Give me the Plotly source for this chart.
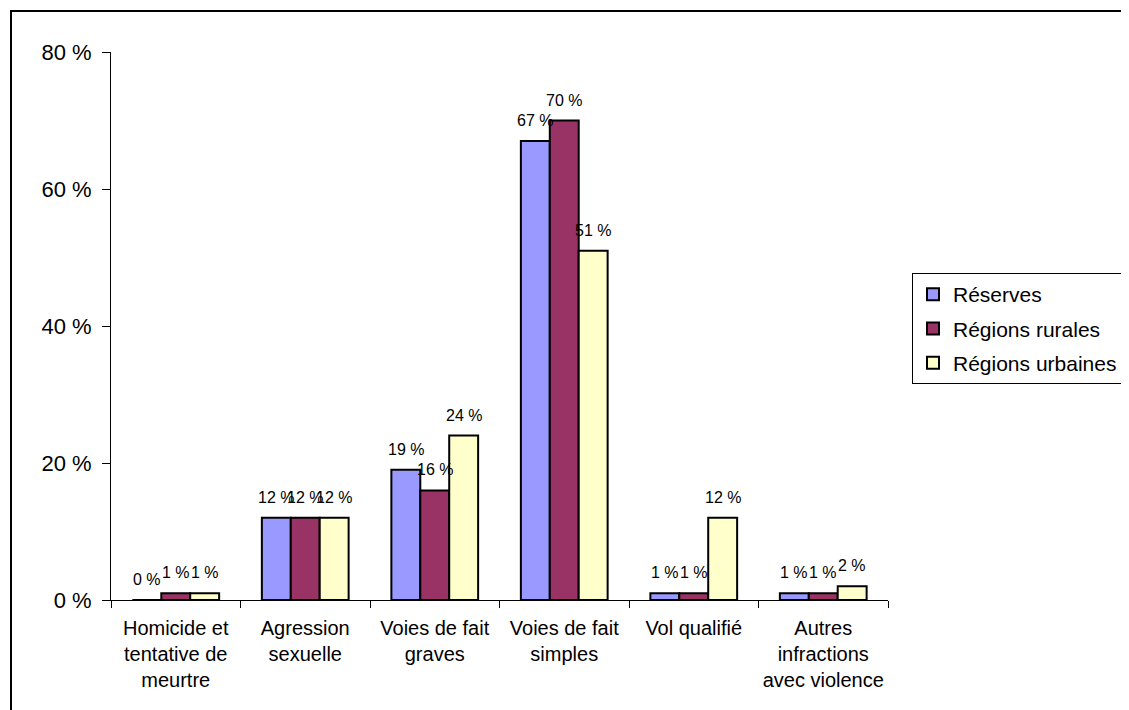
import plotly.graph_objects as go

categories = [
    "Homicide et<br>tentative de<br>meurtre",
    "Agression<br>sexuelle",
    "Voies de fait<br>graves",
    "Voies de fait<br>simples",
    "Vol qualifié",
    "Autres<br>infractions<br>avec violence",
]
reserves = [0, 12, 19, 67, 1, 1]
rurales = [1, 12, 16, 70, 1, 1]
urbaines = [1, 12, 24, 51, 12, 2]
y_ticks = [0, 20, 40, 60, 80]

series = [
    ("Réserves", reserves, "#9999FF"),
    ("Régions rurales", rurales, "#993366"),
    ("Régions urbaines", urbaines, "#FFFFCC"),
]

FONT = "Arial, Liberation Sans, sans-serif"

# page is drawn with an 8px body offset; target plot area is x 111..888, y 52..600
OFF = 8
W, H = 1129, 710
L, T = 111 - OFF, 52 - OFF
R, B = W - (888 - OFF), H - (600 - OFF)
pw, ph = W - L - R, H - T - B
BARGAP = 0.33
bar_w = pw / len(categories) * (1 - BARGAP) / len(series)


def px(x):
    return (x - OFF - L) / pw


def py(y):
    return (H - B - (y - OFF)) / ph


fig = go.Figure()
for i, (name, vals, color) in enumerate(series):
    fig.add_trace(go.Bar(
        x=categories, y=vals, name=name,
        marker=dict(color=color, line=dict(color="black", width=2)),
        legendgroup=name,
    ))
    # data labels sit a little higher above the bars than plotly's outside text
    for cat, v in zip(categories, vals):
        fig.add_annotation(
            x=cat, y=v, text=f"{v} %", showarrow=False,
            xshift=(i - 1) * bar_w, yshift=10, yanchor="bottom",
            font=dict(size=16, color="black", family=FONT),
        )

fig.add_shape(type="rect", xref="paper", yref="paper",
              x0=px(11), x1=px(1150), y0=py(730), y1=py(11),
              line=dict(color="black", width=2), fillcolor="rgba(0,0,0,0)")

fig.update_layout(
    width=W, height=H,
    margin=dict(l=L, r=R, t=T, b=B, autoexpand=False),
    paper_bgcolor="white", plot_bgcolor="white",
    font=dict(family=FONT, color="black"),
    barmode="group", bargap=BARGAP, bargroupgap=0,
    showlegend=True,
    legend=dict(
        x=px(912), y=py(273), xanchor="left", yanchor="top",
        bordercolor="black", borderwidth=1, bgcolor="white",
        font=dict(size=21), itemwidth=30,
        traceorder="grouped", tracegroupgap=4,
    ),
    xaxis=dict(
        showline=True, linecolor="black", linewidth=1,
        ticks="outside", tickson="boundaries", ticklen=7, tickcolor="black",
        tickfont=dict(size=20), tickangle=0, automargin=False, showgrid=False,
        ticklabelstandoff=10,
    ),
    yaxis=dict(
        range=[0, 80], tickvals=y_ticks, ticktext=[f"{t} %" for t in y_ticks],
        showline=True, linecolor="black", linewidth=1,
        ticks="outside", ticklen=8, tickcolor="black", automargin=False,
        tickfont=dict(size=22), showgrid=False, zeroline=False,
        ticklabelstandoff=6,
    ),
)

fig.write_html("out.html")
